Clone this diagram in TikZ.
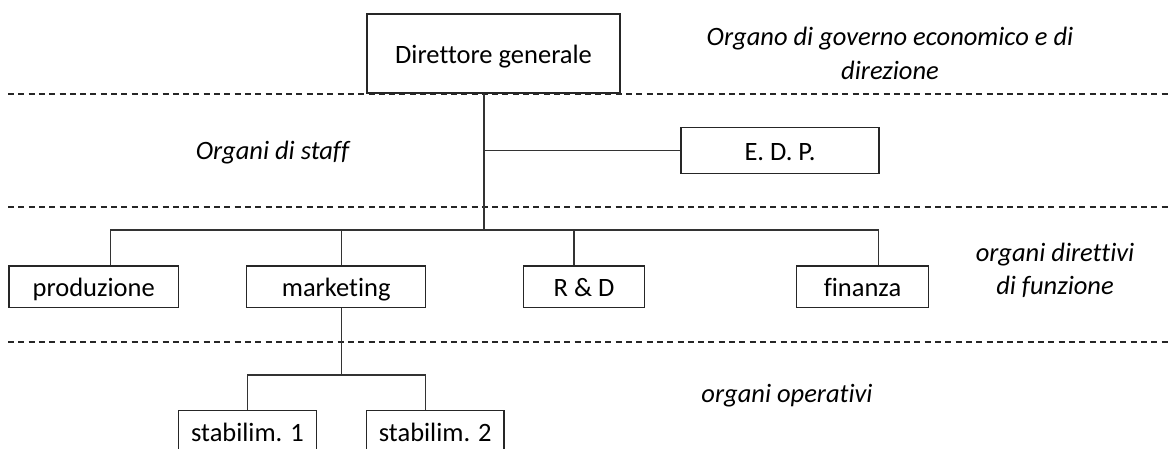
\documentclass[tikz,border=0pt]{standalone}
\usepackage{fontspec}
\setmainfont{Carlito}[Ligatures=NoCommon]
\begin{document}
\begin{tikzpicture}[x=1pt,y=-1pt,
  font=\fontsize{26.5}{34}\selectfont,
  box/.style={draw=black!85, line width=1.3pt, inner sep=0pt, minimum height=41.3pt,
    text height=20pt, text depth=0pt},
  link/.style={draw=black!80, line width=1.3pt},
  level/.style={draw=black!85, line width=1.1pt, dash pattern=on 6pt off 4.3pt},
  note/.style={font=\fontsize{26.5}{34}\selectfont\itshape, anchor=base, inner sep=0pt}]
\useasboundingbox (0,0) rectangle (1174,449);
\clip (0,0) rectangle (1174,449);

% level separators
\draw[level] (8,94) -- (1170,94);
\draw[level] (8,207) -- (1170,207);
\draw[level] (8,342) -- (1170,342);

% boxes
\node[box, minimum width=253pt, minimum height=79pt] (dir) at (493.5,53.5) {Direttore generale};
\node[box, minimum width=198pt, minimum height=46pt] (edp) at (780,150.5) {E. D. P.};
\node[box, minimum width=169.3pt] (prod) at (93.7,286.7) {produzione};
\node[box, minimum width=179pt] (mkt) at (336.2,286.7) {marketing};
\node[box, minimum width=121.4pt] (rd) at (584,286.7) {R \& D};
\node[box, minimum width=131.6pt] (fin) at (862.5,286.6) {finanza};
\node[box, minimum width=138.4pt] (s1) at (247.5,431.2) {stabilim. 1};
\node[box, minimum width=137.3pt] (s2) at (435.3,431.2) {stabilim. 2};

% attachment points
\coordinate (dirfoot) at ([xshift=-9.2pt]dir.south);
\coordinate (hub) at (484.3,230);
\coordinate (prodtop) at ([xshift=17pt]prod.north);
\coordinate (mkttop) at ([xshift=5.1pt]mkt.north);
\coordinate (mktfoot) at ([xshift=5.1pt]mkt.south);
\coordinate (rdtop) at ([xshift=-10pt]rd.north);
\coordinate (fintop) at ([xshift=15.8pt]fin.north);
\coordinate (subhub) at (341.3,375);
\coordinate (s1top) at (s1.north);
\coordinate (s2top) at ([xshift=-10pt]s2.north);

% connectors
\draw[link, line width=1.8pt] (dirfoot) -- (hub);
\draw[link] (dirfoot |- edp.west) -- (edp.west);
\draw[link] (prodtop) |- (hub) -| (fintop);
\draw[link] (mkttop) -- (mkttop |- hub);
\draw[link] (rdtop) -- (rdtop |- hub);
\draw[link] (mktfoot) -- (subhub);
\draw[link] (s1top) |- (subhub) -| (s2top);

% level labels
\node[note] (l1a) at (890,45.7) {Organo di governo economico e di};
\node[note] (l1b) at (890,80) {direzione};
\node[note] (l2) at (272.5,160) {Organi di staff};
\node[note] (l3a) at (1055,261.5) {organi direttivi};
\node[note] (l3b) at (1055,294) {di funzione};
\node[note] (l4) at (787,402) {organi operativi};
\end{tikzpicture}
\end{document}
